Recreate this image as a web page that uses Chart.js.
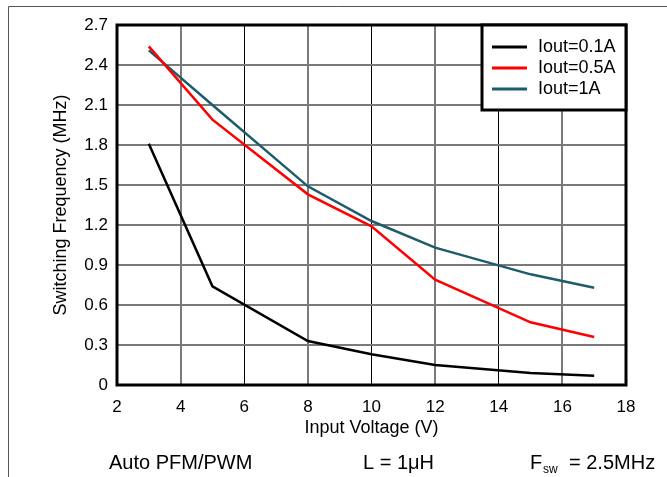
<!DOCTYPE html>
<html lang="en">
<head>
<meta charset="UTF-8" />
<title>Switching Frequency vs Input Voltage</title>
<script src="https://cdn.jsdelivr.net/npm/chart.js"></script>
<style>
  body { margin: 0; background: #fff; }
  #wrap { width: 667px; height: 477px; }
</style>
</head>
<body>
<div id="wrap"><canvas id="freq" width="667" height="477"></canvas></div>
<script>
  // values
  const vin    = [3, 5, 8, 10, 12, 15, 17];
  const iout01 = [1.81, 0.74, 0.33, 0.23, 0.15, 0.09, 0.07];
  const iout05 = [2.54, 1.99, 1.43, 1.19, 0.79, 0.47, 0.36];
  const iout1  = [2.51, 2.10, 1.49, 1.23, 1.03, 0.83, 0.73];

  const seriesNames = ['Iout=0.1A', 'Iout=0.5A', 'Iout=1A'];

  // axis ticks
  const xTicks = [2, 4, 6, 8, 10, 12, 14, 16, 18];
  const xTickLabels = ['2', '4', '6', '8', '10', '12', '14', '16', '18'];
  const yTicks = [0, 0.3, 0.6, 0.9, 1.2, 1.5, 1.8, 2.1, 2.4, 2.7];
  const yTickLabels = ['0', '0.3', '0.6', '0.9', '1.2', '1.5', '1.8', '2.1', '2.4', '2.7'];

  const FONT = '"Liberation Sans", Arial, Helvetica, sans-serif';
  const colors = ['#000000', '#ff0000', '#1d5c6b'];

  function pts(ys) {
    return vin.map((x, i) => ({ x: x, y: ys[i] }));
  }

  // frame, legend box and the notes under the chart
  const decor = {
    id: 'decor',
    beforeDraw(chart) {
      const ctx = chart.ctx;
      ctx.save();
      ctx.strokeStyle = '#555';
      ctx.lineWidth = 1;
      ctx.beginPath();
      ctx.moveTo(8.5, 477);
      ctx.lineTo(8.5, 6.5);
      ctx.lineTo(667, 6.5);
      ctx.stroke();
      ctx.restore();
    },
    afterDatasetsDraw(chart) {
      const ctx = chart.ctx;
      const a = chart.chartArea;
      ctx.save();

      // plot border
      ctx.strokeStyle = '#000';
      ctx.lineWidth = 3;
      ctx.strokeRect(a.left, a.top, a.right - a.left, a.bottom - a.top);

      // legend
      const bw = 144, bh = 85;
      const bx = a.right - bw, by = a.top;
      ctx.fillStyle = '#fff';
      ctx.fillRect(bx, by, bw, bh);
      ctx.lineWidth = 3;
      ctx.strokeRect(bx, by, bw, bh);
      ctx.font = '18px ' + FONT;
      ctx.textBaseline = 'middle';
      chart.data.datasets.forEach((ds, i) => {
        const y = by + 22 + i * 21;
        ctx.strokeStyle = ds.borderColor;
        ctx.lineWidth = 3;
        ctx.beginPath();
        ctx.moveTo(bx + 10, y);
        ctx.lineTo(bx + 45, y);
        ctx.stroke();
        ctx.fillStyle = '#000';
        ctx.fillText(ds.label, bx + 56, y);
      });

      // conditions line
      ctx.fillStyle = '#000';
      ctx.textBaseline = 'alphabetic';
      ctx.font = '20px ' + FONT;
      ctx.fillText('Auto PFM/PWM', 109, 469);
      ctx.fillText('L = 1\u03bcH', 363, 469);
      ctx.fillText('F', 530, 469);
      ctx.font = '12px ' + FONT;
      ctx.fillText('sw', 543, 473);
      ctx.font = '20px ' + FONT;
      ctx.fillText('= 2.5MHz', 569, 469);
      ctx.restore();
    }
  };

  new Chart(document.getElementById('freq'), {
    type: 'line',
    data: {
      datasets: [
        { label: seriesNames[0], data: pts(iout01), borderColor: colors[0] },
        { label: seriesNames[1], data: pts(iout05), borderColor: colors[1] },
        { label: seriesNames[2], data: pts(iout1),  borderColor: colors[2] }
      ]
    },
    options: {
      responsive: false,
      animation: false,
      devicePixelRatio: 1,
      layout: { padding: { left: 50, top: 25, right: 41, bottom: 38 } },
      elements: {
        point: { radius: 0 },
        line: { borderWidth: 2.5, tension: 0, fill: false }
      },
      plugins: {
        legend: { display: false },
        tooltip: { enabled: false }
      },
      scales: {
        x: {
          type: 'linear',
          min: 2,
          max: 18,
          afterBuildTicks: (axis) => { axis.ticks = xTicks.map(v => ({ value: v })); },
          afterFit: (axis) => { axis.height = 54; },
          border: { display: false },
          grid: {
            drawTicks: false,
            color: (c) => [6, 10, 14].includes(c.tick.value) ? '#000' : '#7a7a7a',
            lineWidth: (c) => [6, 10, 14].includes(c.tick.value) ? 1 : 2
          },
          ticks: {
            padding: 12,
            color: '#000',
            font: { family: FONT, size: 17 },
            callback: (v, i) => xTickLabels[i]
          },
          title: {
            display: true,
            text: 'Input Voltage (V)',
            color: '#000',
            padding: 0,
            font: { family: FONT, size: 18 }
          }
        },
        y: {
          min: 0,
          max: 2.7,
          afterBuildTicks: (axis) => { axis.ticks = yTicks.map(v => ({ value: v })); },
          afterFit: (axis) => { axis.width = 67; },
          border: { display: false },
          grid: {
            drawTicks: false,
            color: '#7a7a7a',
            lineWidth: 2
          },
          ticks: {
            padding: 9,
            color: '#000',
            font: { family: FONT, size: 17 },
            callback: (v, i) => yTickLabels[i]
          },
          title: {
            display: true,
            text: 'Switching Frequency (MHz)',
            color: '#000',
            padding: 0,
            font: { family: FONT, size: 18 }
          }
        }
      }
    },
    plugins: [decor]
  });
</script>
</body>
</html>
